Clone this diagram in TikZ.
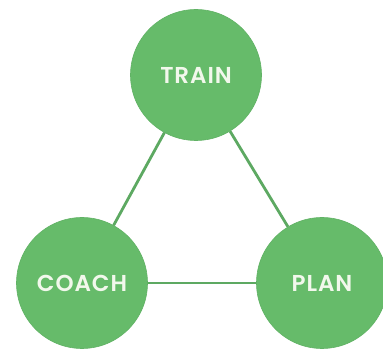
\documentclass[tikz,border=0pt]{standalone}
\usepackage{fontspec}
\newfontfamily\kreisfont[LetterSpace=4]{Poppins SemiBold}
\usepackage{tikz}
\usetikzlibrary{arrows}
\definecolor{kreisgruen}{HTML}{66BB6A}
\definecolor{liniengruen}{HTML}{5DA962}
\definecolor{schrift}{HTML}{F2F8EC}
\begin{document}
\begin{tikzpicture}[x=1pt, y=1pt,
		kreis/.style={circle, fill=kreisgruen, draw=kreisgruen!95!black, line width=0.6pt, minimum size=131pt, inner sep=0pt,
			text=schrift, font=\kreisfont\fontsize{23}{23}\selectfont},
		verbindung/.style={liniengruen, line width=2.8pt},
		scale=1]
		%Bildbereich
		\useasboundingbox (0,0) rectangle (383,353);
		%Kreise
		\node[kreis] (train) at (196,278) {TRAIN};
		\node[kreis] (coach) at (82,70) {COACH};
		\node[kreis] (plan) at (322,70) {PLAN};
		%Verbindungen
		\draw[verbindung] (train) -- (coach);
		\draw[verbindung] (train) -- (plan);
		\draw[verbindung] (coach) -- (plan);
	\end{tikzpicture}
\end{document}
